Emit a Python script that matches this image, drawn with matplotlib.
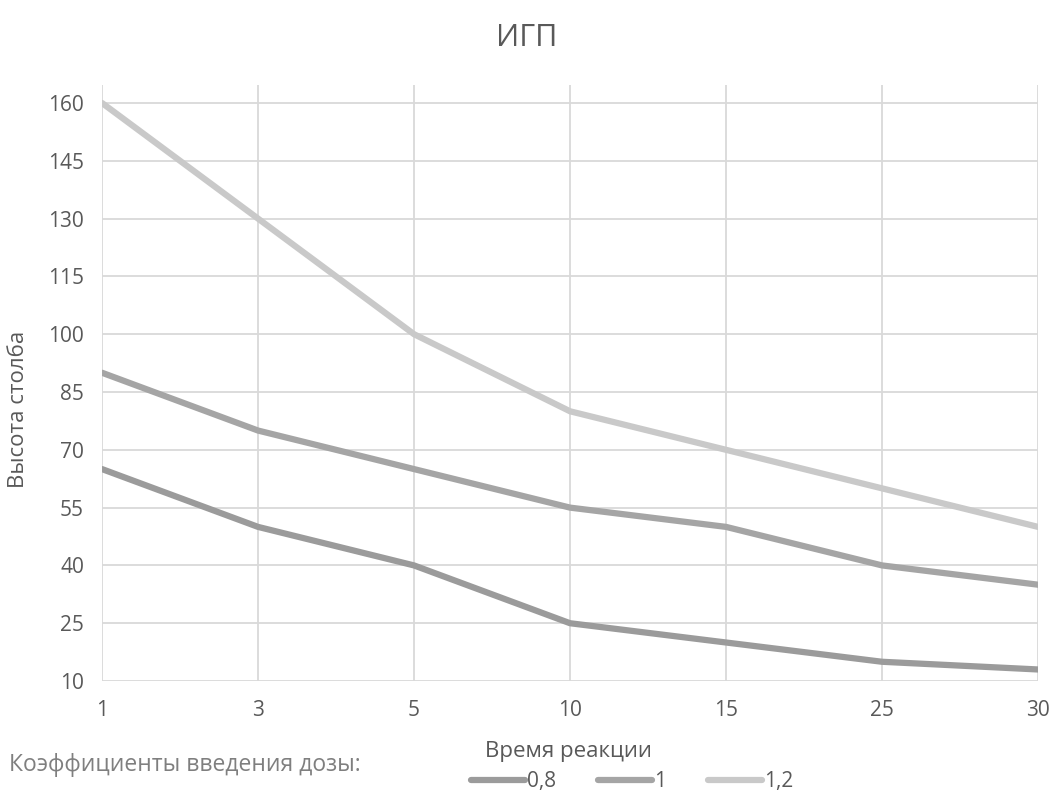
import matplotlib.pyplot as plt

plt.rcParams['font.family'] = ['Open Sans', 'DejaVu Sans']

# данные
time_labels = ['1', '3', '5', '10', '15', '25', '30']
series_08 = [65, 50, 40, 25, 20, 15, 13]
series_1 = [90, 75, 65, 55, 50, 40, 35]
series_12 = [160, 130, 100, 80, 70, 60, 50]
legend_names = ['0,8', '1', '1,2']
y_ticks = list(range(10, 161, 15))

fig = plt.figure(figsize=(10.53, 7.97), dpi=100)
ax = fig.add_axes([0.0969, 0.1455, 0.8889, 0.748])

x = range(len(time_labels))
ax.plot(x, series_08, color='#9b9b9b', lw=4.5, label=legend_names[0], solid_capstyle='round', zorder=3)
ax.plot(x, series_1, color='#a5a5a5', lw=4.5, label=legend_names[1], solid_capstyle='round', zorder=3)
ax.plot(x, series_12, color='#c9c9c9', lw=4.5, label=legend_names[2], solid_capstyle='round', zorder=3)

ax.set_xlim(0, len(time_labels) - 1)
ax.set_ylim(10, 164.7)
ax.set_xticks(list(x))
ax.set_xticklabels(time_labels)
ax.set_yticks(y_ticks)
ax.grid(True, color='#d9d9d9', lw=1.3, zorder=0)
for s in ax.spines.values():
    s.set_visible(False)
ax.tick_params(length=0, labelsize=15, colors='#595959')
ax.tick_params(axis='x', pad=14)
ax.tick_params(axis='y', pad=13)

fig.text(0.5, 0.952, 'ИГП', fontsize=22, color='#595959', ha='center', va='center')
fig.text(0.018, 0.486, 'Высота столба', fontsize=16, color='#595959',
         rotation=90, ha='center', va='center')
ax.set_xlabel('Время реакции', fontsize=16, color='#595959')
ax.xaxis.set_label_coords(0.498, -0.1)

fig.text(0.009, 0.04, 'Коэффициенты введения дозы:', fontsize=16.5, color='#7f7f7f', va='center')
fig.legend(loc='center', bbox_to_anchor=(0.6, 0.019), ncol=3, frameon=False,
           fontsize=15, labelcolor='#595959', handlelength=2.6, handletextpad=0.1,
           columnspacing=2.0)

fig.savefig('out.png', dpi=100)
